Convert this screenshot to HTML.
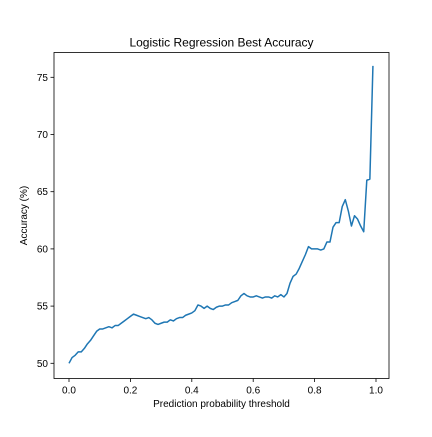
<!DOCTYPE html>
<html><head><meta charset="utf-8"><style>
body{margin:0;background:#fff}
svg text{font-family:"Liberation Sans","DejaVu Sans",sans-serif;fill:#000}
</style></head><body>
<svg id="c" width="432" height="432" xmlns="http://www.w3.org/2000/svg">
<rect width="432" height="432" fill="#fff"/>
</svg>
<script>
const accuracy=[50.0,50.5,50.7,51.0,51.0,51.3,51.7,52.0,52.4,52.8,53.0,53.0,53.1,53.2,53.1,53.3,53.3,53.5,53.7,53.9,54.1,54.3,54.2,54.1,54.0,53.9,54.0,53.8,53.5,53.4,53.5,53.6,53.6,53.8,53.7,53.9,54.0,54.0,54.2,54.3,54.4,54.6,55.1,55.0,54.8,55.0,54.8,54.7,54.9,55.0,55.0,55.1,55.1,55.3,55.4,55.5,55.9,56.1,55.9,55.8,55.8,55.9,55.8,55.7,55.8,55.8,55.7,55.9,55.8,56.0,55.8,56.1,57.0,57.6,57.8,58.3,58.9,59.5,60.2,60.0,60.0,60.0,59.9,60.0,60.6,60.6,61.9,62.3,62.3,63.7,64.3,63.3,62.0,62.9,62.6,62.0,61.5,66.0,66.1,76.0];
const thresholds=accuracy.map((_,i)=>i/100);
const xTicks=[0.0,0.2,0.4,0.6,0.8,1.0];
const xTickLabels=["0.0","0.2","0.4","0.6","0.8","1.0"];
const yTicks=[50,55,60,65,70,75];
const yTickLabels=["50","55","60","65","70","75"];
const NS="http://www.w3.org/2000/svg";
const svg=document.getElementById('c');
const L=54,R=389,T=52.5,B=378.5;
const xs=v=>69+v*307;
const ys=v=>363.3-(v-50)*11.44;
function mk(tag,attrs,parent){const e=document.createElementNS(NS,tag);for(const k in attrs)e.setAttribute(k,attrs[k]);(parent||svg).appendChild(e);return e;}
// line
const pts=thresholds.map((x,i)=>xs(x).toFixed(2)+","+ys(accuracy[i]).toFixed(2)).join(" ");
const line=mk('polyline',{points:pts,fill:'none',stroke:'#1f77b4','stroke-width':1.5,'stroke-linejoin':'round'});


// frame
const frame=mk('rect',{x:L,y:T,width:R-L,height:B-T,fill:'none',stroke:'#000','stroke-width':0.8});


xTicks.forEach((v,i)=>{
  const x=xs(v);
  mk('line',{x1:x,x2:x,y1:B,y2:B+3.5,stroke:'#000','stroke-width':0.8});
  const t=mk('text',{x:x,y:B+15,'text-anchor':'middle','font-size':10});
  t.textContent=xTickLabels[i];
  
  
});
yTicks.forEach((v,i)=>{
  const y=ys(v);
  mk('line',{x1:L-3.5,x2:L,y1:y,y2:y,stroke:'#000','stroke-width':0.8});
  const t=mk('text',{x:L-6,y:y+3.5,'text-anchor':'end','font-size':10});
  t.textContent=yTickLabels[i];
  
  
});
const title=mk('text',{x:(L+R)/2,y:T-6,'text-anchor':'middle','font-size':12});
title.textContent='Logistic Regression Best Accuracy';


const xl=mk('text',{x:(L+R)/2,y:407,'text-anchor':'middle','font-size':10});
xl.textContent='Prediction probability threshold';


const yl=mk('text',{x:0,y:0,'text-anchor':'middle','font-size':10,transform:'translate(27,'+((T+B)/2)+') rotate(-90)'});
yl.textContent='Accuracy (%)';


</script>
</body></html>
